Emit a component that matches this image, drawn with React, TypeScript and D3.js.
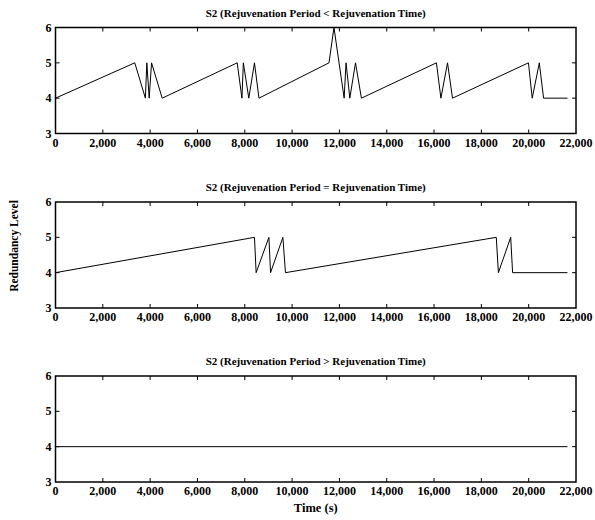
import { useEffect, useRef } from 'react';
import * as d3 from 'd3';

// x (time) and y (redundancy level) ticks shared by the three panels
const xTicks = [0, 2000, 4000, 6000, 8000, 10000, 12000, 14000, 16000, 18000, 20000, 22000];
const yTicks = [3, 4, 5, 6];

const panelTitles = [
  'S2 (Rejuvenation Period < Rejuvenation Time)',
  'S2 (Rejuvenation Period = Rejuvenation Time)',
  'S2 (Rejuvenation Period > Rejuvenation Time)',
];

// period < time
const lessTimes = [
  0, 3350, 3800, 3860, 3960, 4060, 4510,
  7680, 7880, 7940, 8170, 8410, 8600,
  11560, 11770, 12200, 12280, 12440, 12680, 12930,
  16100, 16290, 16570, 16780,
  19990, 20150, 20450, 20630, 21640,
];
const lessLevels = [
  4, 5, 4, 5, 4, 5, 4,
  5, 4, 5, 4, 5, 4,
  5, 6, 4, 5, 4, 5, 4,
  5, 4, 5, 4,
  5, 4, 5, 4, 4,
];

// period = time
const equalTimes = [0, 8410, 8480, 9020, 9090, 9610, 9720, 18630, 18720, 19240, 19320, 21640];
const equalLevels = [4, 5, 4, 5, 4, 5, 4, 5, 4, 5, 4, 4];

// period > time
const greaterTimes = [0, 21640];
const greaterLevels = [4, 4];

const series = [
  { times: lessTimes, levels: lessLevels },
  { times: equalTimes, levels: equalLevels },
  { times: greaterTimes, levels: greaterLevels },
];

export default function App() {
  const ref = useRef<SVGSVGElement>(null);

  useEffect(() => {
    const svgElement = ref.current;
    if (!svgElement) {
      return;
    }
    const svg = d3.select(svgElement);
    svg.selectAll('*').remove();

    const width = 595;
    const height = 520;
    const left = 55.5;
    const right = 576;
    const panelHeight = 106;
    const panelTops = [27.5, 202, 376];
    const tickLen = 4;
    const font = '"Liberation Serif", "Times New Roman", serif';

    svg.attr('width', width).attr('height', height);

    const x = d3.scaleLinear().domain([0, 22000]).range([left, right]);
    const fmt = d3.format(',');

    series.forEach((s, i) => {
      const top = panelTops[i];
      const bottom = top + panelHeight;
      const y = d3.scaleLinear().domain([3, 6]).range([bottom, top]);
      const g = svg.append('g');

      // ticks (inward on all four sides)
      xTicks.forEach((t) => {
        if (t === 0 || t === 22000) return;
        g.append('line')
          .attr('x1', x(t)).attr('x2', x(t))
          .attr('y1', bottom).attr('y2', bottom - tickLen)
          .attr('stroke', '#000').attr('stroke-width', 1);
        g.append('line')
          .attr('x1', x(t)).attr('x2', x(t))
          .attr('y1', top).attr('y2', top + tickLen)
          .attr('stroke', '#000').attr('stroke-width', 1);
      });
      yTicks.forEach((t) => {
        if (t === 3 || t === 6) return;
        g.append('line')
          .attr('x1', left).attr('x2', left + tickLen)
          .attr('y1', y(t)).attr('y2', y(t))
          .attr('stroke', '#000').attr('stroke-width', 1);
        g.append('line')
          .attr('x1', right).attr('x2', right - tickLen)
          .attr('y1', y(t)).attr('y2', y(t))
          .attr('stroke', '#000').attr('stroke-width', 1);
      });

      // data line
      const pts = s.times.map((t, k) => [t, s.levels[k]] as [number, number]);
      const line = d3
        .line<[number, number]>()
        .x((d) => x(d[0]))
        .y((d) => y(d[1]));
      g.append('path')
        .datum(pts)
        .attr('d', line)
        .attr('fill', 'none')
        .attr('stroke', '#000')
        .attr('stroke-width', 1);

      // frame
      g.append('rect')
        .attr('x', left).attr('y', top)
        .attr('width', right - left).attr('height', panelHeight)
        .attr('fill', 'none')
        .attr('stroke', '#000')
        .attr('stroke-width', 1.5);

      // tick labels
      xTicks.forEach((t) => {
        g.append('text')
          .attr('x', x(t)).attr('y', bottom + 13)
          .attr('text-anchor', 'middle')
          .attr('font-family', font).attr('font-weight', 'bold').attr('font-size', 12)
          .text(fmt(t));
      });
      yTicks.forEach((t) => {
        g.append('text')
          .attr('x', left - 4).attr('y', y(t) + 4)
          .attr('text-anchor', 'end')
          .attr('font-family', font).attr('font-weight', 'bold').attr('font-size', 12)
          .text(t);
      });

      // title
      g.append('text')
        .attr('x', (left + right) / 2).attr('y', top - 11)
        .attr('text-anchor', 'middle')
        .attr('font-family', font).attr('font-weight', 'bold').attr('font-size', 11)
        .text(panelTitles[i]);
    });

    svg.append('text')
      .attr('x', (left + right) / 2).attr('y', 512)
      .attr('text-anchor', 'middle')
      .attr('font-family', font).attr('font-weight', 'bold').attr('font-size', 12.5)
      .text('Time (s)');

    svg.append('text')
      .attr('transform', 'translate(18, 246) rotate(-90)')
      .attr('text-anchor', 'middle')
      .attr('font-family', font).attr('font-weight', 'bold').attr('font-size', 11.5)
      .text('Redundancy Level');
  }, []);

  return <svg ref={ref} style={{ position: 'absolute', left: 0, top: 0 }} />;
}
